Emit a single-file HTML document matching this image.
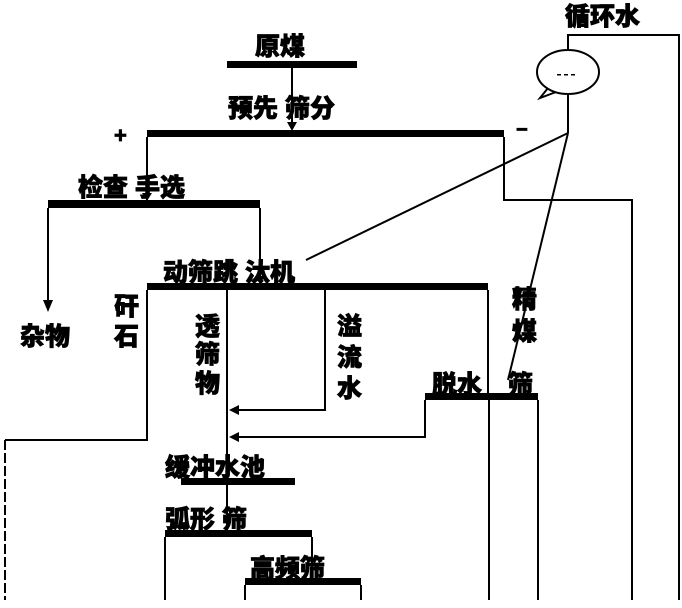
<!DOCTYPE html>
<html><head><meta charset="utf-8"><style>
html,body{margin:0;padding:0;background:#fff;}
svg{display:block;}
text{font-family:"Liberation Sans","Noto Sans CJK SC",sans-serif;font-weight:900;fill:#000;stroke:#000;stroke-width:0.8;}
</style></head><body>
<svg width="682" height="608" viewBox="0 0 682 608" xmlns="http://www.w3.org/2000/svg">
<g stroke="#000" stroke-width="2" fill="none">
<polyline points="568,50 568,35 679,35 679,600"/>
<ellipse cx="568" cy="72" rx="31" ry="22" fill="#fff"/>
<polyline points="548,88 540,98 556,92"/>
<line x1="568" y1="94" x2="568" y2="133"/>
<line x1="568" y1="133" x2="306" y2="260"/>
<line x1="568" y1="133" x2="508" y2="380"/>
<line x1="292" y1="68" x2="292" y2="128"/>
<polyline points="147,200 147,137"/>
<polyline points="504,137 504,200 632,200 632,600"/>
<polyline points="48,208 48,305"/>
<line x1="260" y1="208" x2="260" y2="283"/>
<polyline points="147,290 147,440 5,440"/>
<line x1="5" y1="440" x2="5" y2="600" stroke-dasharray="10,3"/>
<line x1="227" y1="290" x2="227" y2="530"/>
<polyline points="325,290 325,410 232,410"/>
<line x1="488" y1="290" x2="488" y2="395"/>
<polyline points="425,400 425,437 232,437"/>
<line x1="489" y1="400" x2="489" y2="600"/>
<line x1="538" y1="400" x2="538" y2="600"/>
<line x1="165" y1="537" x2="165" y2="600"/>
<line x1="312" y1="537" x2="312" y2="578"/>
<line x1="245" y1="585" x2="245" y2="600"/>
<line x1="361" y1="585" x2="361" y2="600"/>
</g>
<g fill="#000">
<rect x="227" y="61" width="130" height="7"/>
<rect x="147" y="130" width="357" height="7"/>
<rect x="48" y="200" width="212" height="8"/>
<rect x="147" y="283" width="341" height="7"/>
<rect x="425" y="393" width="113" height="7"/>
<rect x="181" y="478" width="114" height="7"/>
<rect x="165" y="530" width="147" height="7"/>
<rect x="245" y="578" width="116" height="7"/>
<polygon points="287,122 297,122 292,131"/>
<polygon points="142,193 152,193 147,201"/>
<polygon points="255,276 265,276 260,284"/>
<polygon points="43,300 53,300 48,312"/>
<polygon points="229,410 239,405 239,415"/>
<polygon points="229,437 239,432 239,442"/>
<rect x="557" y="74" width="4" height="1.5"/><rect x="564" y="74" width="4" height="1.5"/><rect x="571" y="74" width="4" height="1.5"/>
</g>
<text x="565" y="25" font-size="25">循环水</text>
<text x="255" y="55" font-size="25">原煤</text>
<text x="228" y="117" font-size="25">预先 筛分</text>
<text x="114" y="143" font-size="22">+</text>
<text x="516" y="136" font-size="20">−</text>
<text x="78" y="196" font-size="25">检查 手选</text>
<text x="163" y="281" font-size="25">动筛跳 汰机</text>
<text x="20" y="345" font-size="25">杂物</text>
<text x="114" y="315" font-size="25">矸</text>
<text x="114" y="345" font-size="25">石</text>
<text x="195" y="335" font-size="25">透</text>
<text x="195" y="363" font-size="25">筛</text>
<text x="195" y="392" font-size="25">物</text>
<text x="337" y="335" font-size="25">溢</text>
<text x="337" y="366" font-size="25">流</text>
<text x="337" y="397" font-size="25">水</text>
<text x="512" y="308" font-size="25">精</text>
<text x="512" y="340" font-size="25">煤</text>
<text x="432" y="393" font-size="25">脱水</text>
<text x="508" y="393" font-size="25">筛</text>
<text x="165" y="476" font-size="25">缓冲水池</text>
<text x="165" y="528" font-size="25">弧形 筛</text>
<text x="250" y="577" font-size="25">高频筛</text>
</svg>
</body></html>
